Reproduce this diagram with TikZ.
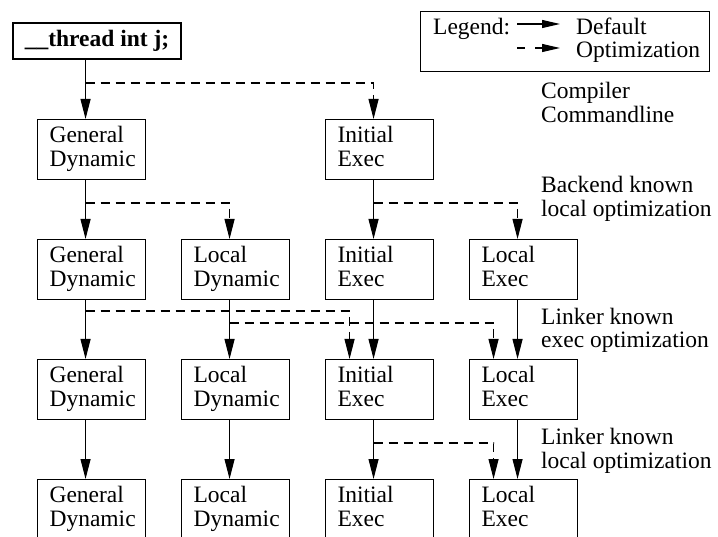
\documentclass[tikz,border=0pt]{standalone}
\usepackage{fontspec}
\setmainfont{Liberation Serif}
\usetikzlibrary{arrows.meta,calc}
\begin{document}
\begin{tikzpicture}[x=1pt,y=-1pt,
  every node/.style={font=\fontsize{23.5}{24}\selectfont, inner sep=0pt},
  box/.style={draw, line width=1.1pt, anchor=north west, minimum width=108pt,
    minimum height=60pt, text width=84pt, inner xsep=12pt, inner ysep=0pt, align=left},
  arr/.style={line width=1.1pt, -{Triangle[length=20pt,width=10pt]}},
  opt/.style={arr, dash pattern=on 9pt off 6pt},
  legarr/.style={line width=1.1pt, -{Triangle[length=18pt,width=8pt]}},
  lbl/.style={anchor=north west, align=left, font=\fontsize{23.5}{22}\selectfont}]
\useasboundingbox (0,0) rectangle (718,537);

% top declaration
\node[draw, line width=1.1pt, minimum width=168pt, minimum height=36pt,
  font=\fontsize{23.5}{24}\selectfont\bfseries] (thr) at (97,41) {\_\_thread int j;};

% legend
\node[draw, line width=1.1pt, anchor=north west, minimum width=289pt, minimum height=60pt] (lg) at (420,11) {};
\node[anchor=base west] (legt) at (433,35) {Legend:};
\node[anchor=base west] (legd) at (576,35) {Default};
\node[anchor=base west] (lego) at (576,58) {Optimization};
\coordinate (la1) at (517,24);
\coordinate (la2) at (560,24);
\coordinate (lb1) at (517,48);
\coordinate (lb2) at (560,48);
\draw[legarr] (la1) -- (la2);
\draw[legarr, dash pattern=on 8pt off 10pt] (lb1) -- (lb2);

% row 1
\node[box] (r1c1) at (37,119) {\strut General\\\strut Dynamic};
\node[box] (r1c3) at (325,119) {\strut Initial\\\strut Exec};
% row 2
\node[box] (r2c1) at (37,239) {\strut General\\\strut Dynamic};
\node[box] (r2c2) at (181,239) {\strut Local\\\strut Dynamic};
\node[box] (r2c3) at (325,239) {\strut Initial\\\strut Exec};
\node[box] (r2c4) at (469,239) {\strut Local\\\strut Exec};
% row 3
\node[box] (r3c1) at (37,359) {\strut General\\\strut Dynamic};
\node[box] (r3c2) at (181,359) {\strut Local\\\strut Dynamic};
\node[box] (r3c3) at (325,359) {\strut Initial\\\strut Exec};
\node[box] (r3c4) at (469,359) {\strut Local\\\strut Exec};
% row 4
\node[box] (r4c1) at (37,479) {\strut General\\\strut Dynamic};
\node[box] (r4c2) at (181,479) {\strut Local\\\strut Dynamic};
\node[box] (r4c3) at (325,479) {\strut Initial\\\strut Exec};
\node[box] (r4c4) at (469,479) {\strut Local\\\strut Exec};

% right-hand labels
\node[lbl] (l1) at (541,81.6) {\strut Compiler\\Commandline};
\node[lbl] (l2) at (541,175.6) {\strut Backend known\\local optimization};
\node[lbl] (l3) at (541,307.6) {\strut Linker known\\exec optimization};
\node[lbl] (l4) at (541,427.6) {\strut Linker known\\local optimization};

% stem coordinates
\foreach \n in {r1c1,r1c3,r2c1,r2c2,r2c3,r2c4,r3c1,r3c2,r3c3,r3c4,r4c1,r4c2,r4c3,r4c4}{
  \coordinate (\n-in) at ($(\n.north)+(-6,0)$);
  \coordinate (\n-in2) at ($(\n.north)+(-30,0)$);
  \coordinate (\n-dn) at ($(\n.south)+(-6,0)$);
}

% compiler commandline
\draw[arr] (thr.south -| r1c1-in) -- (r1c1-in);
\draw[opt] ($(r1c1-in)+(0,-36)$) -| (r1c3-in);
% backend
\draw[arr] (r1c1-dn) -- (r2c1-in);
\draw[opt] ($(r2c1-in)+(0,-36)$) -| (r2c2-in);
\draw[arr] (r1c3-dn) -- (r2c3-in);
\draw[opt] ($(r2c3-in)+(0,-36)$) -| (r2c4-in);
% linker exec
\draw[arr] (r2c1-dn) -- (r3c1-in);
\draw[arr] (r2c2-dn) -- (r3c2-in);
\draw[arr] (r2c3-dn) -- (r3c3-in);
\draw[arr] (r2c4-dn) -- (r3c4-in);
\draw[opt] ($(r3c1-in)+(0,-48)$) -| (r3c3-in2);
\draw[opt] ($(r3c2-in)+(0,-36)$) -| (r3c4-in2);
% linker local
\draw[arr] (r3c1-dn) -- (r4c1-in);
\draw[arr] (r3c2-dn) -- (r4c2-in);
\draw[arr] (r3c3-dn) -- (r4c3-in);
\draw[arr] (r3c4-dn) -- (r4c4-in);
\draw[opt] ($(r4c3-in)+(0,-36)$) -| (r4c4-in2);
\end{tikzpicture}
\end{document}
